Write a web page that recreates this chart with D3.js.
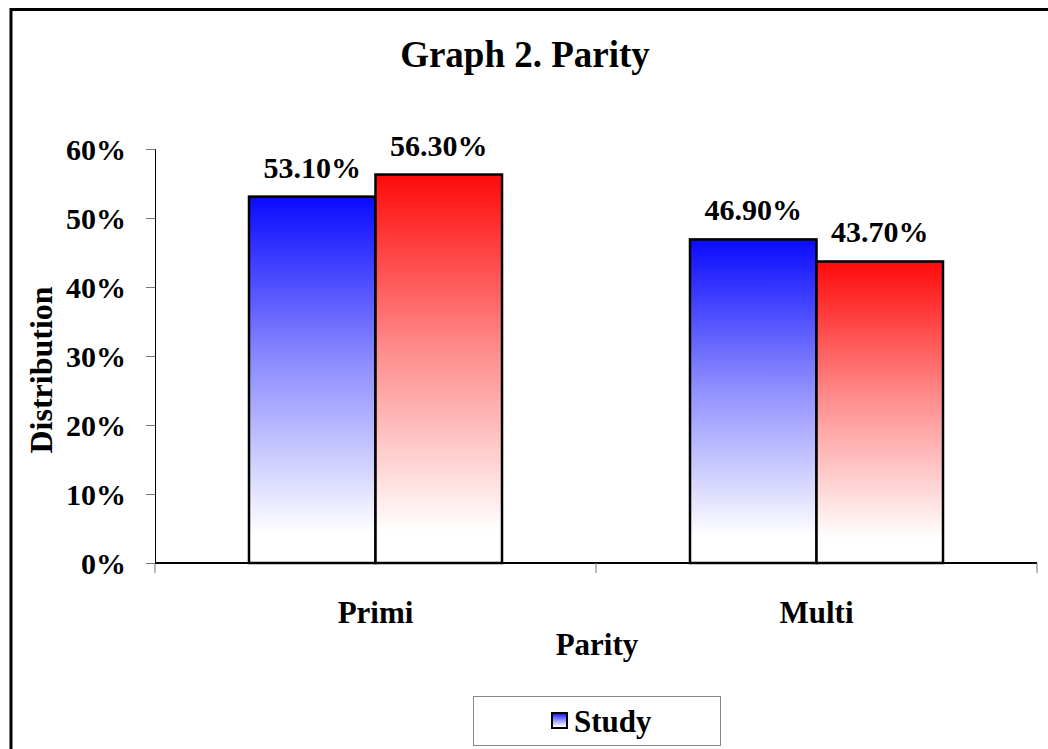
<!DOCTYPE html>
<html><head><meta charset="utf-8">
<script src="https://cdn.jsdelivr.net/npm/d3@7"></script>
<style>body{margin:0;background:#fff}svg{display:block}text{font-family:"Liberation Serif","Times New Roman",serif;font-weight:bold;fill:#000}</style>
</head><body>
<script>
const categories = ["Primi", "Multi"];
const seriesNames = ["Study", "Control"];
const studyValues = [0.531, 0.469];
const controlValues = [0.563, 0.437];
const yTicks = [0, 0.1, 0.2, 0.3, 0.4, 0.5, 0.6];
const legendNames = ["Study"];

(function () {
const W = 1048, H = 749;
const svg = d3.select("body").append("svg").attr("width", W).attr("height", H);
const defs = svg.append("defs");
function grad(id, c, mid) {
  const g = defs.append("linearGradient").attr("id", id).attr("x1", 0).attr("y1", 0).attr("x2", 0).attr("y2", 1);
  g.append("stop").attr("offset", "0%").attr("stop-color", c);
  g.append("stop").attr("offset", "45%").attr("stop-color", mid);
  g.append("stop").attr("offset", "92%").attr("stop-color", "#ffffff");
  g.append("stop").attr("offset", "100%").attr("stop-color", "#ffffff");
}
grad("gBlue", "#0a0aff", "#8c8cff");
grad("gRed", "#ff0a0a", "#ff8c8c");
const fills = {Study: "url(#gBlue)", Control: "url(#gRed)"};

// outer frame
svg.append("rect").attr("x", 11).attr("y", 9.5).attr("width", W + 20).attr("height", H + 20)
  .attr("fill", "none").attr("stroke", "#000").attr("stroke-width", 3);

const pLeft = 155, pRight = 1037, pTop = 149, pBottom = 563;
const x0 = d3.scaleBand().domain(categories).range([pLeft, pRight]).padding(0);
const x1 = d3.scaleBand().domain(seriesNames).range([0, x0.bandwidth()]).paddingInner(0).paddingOuter(0.743);
const y = d3.scaleLinear().domain([0, 0.6]).range([pBottom, pTop]);

// title
svg.append("text").attr("x", 525).attr("y", 67).attr("text-anchor", "middle").attr("font-size", 37).text("Graph 2. Parity");

// bars
const data = categories.map((c, i) => ({cat: c, vals: [{s: "Study", v: studyValues[i]}, {s: "Control", v: controlValues[i]}]}));
const g = svg.append("g");
data.forEach(d => {
  d.vals.forEach(b => {
    g.append("rect").attr("x", x0(d.cat) + x1(b.s)).attr("y", y(b.v))
      .attr("width", x1.bandwidth()).attr("height", y(0) - y(b.v))
      .attr("fill", fills[b.s]).attr("stroke", "#000").attr("stroke-width", 2.5);
    g.append("text").attr("x", x0(d.cat) + x1(b.s) + x1.bandwidth() / 2).attr("y", y(b.v) - 19)
      .attr("text-anchor", "middle").attr("font-size", 30).text((b.v * 100).toFixed(2) + "%");
  });
});

// y axis
const yAxis = d3.axisLeft(y).tickValues(yTicks).tickFormat(d3.format(".0%")).tickSize(9).tickPadding(20);
const ya = svg.append("g").attr("transform", `translate(${pLeft},0)`).call(yAxis);
ya.select(".domain").attr("stroke", "#000").attr("stroke-width", 1);
ya.selectAll(".tick line").attr("stroke", "#777");
ya.selectAll(".tick text").attr("font-size", 30).attr("font-family", "Liberation Serif").attr("font-weight", "bold").attr("fill", "#000").attr("dy", "0.35em");

// x axis
const xa = svg.append("g").attr("transform", `translate(0,${pBottom})`);
xa.append("line").attr("x1", pLeft).attr("x2", pRight).attr("y1", 0).attr("y2", 0).attr("stroke", "#000").attr("stroke-width", 2);
const tickXs = [pLeft].concat(categories.map(c => x0(c) + x0.bandwidth()));
xa.selectAll("line.tk").data(tickXs).enter().append("line").attr("class", "tk")
  .attr("x1", d => d).attr("x2", d => d).attr("y1", 0).attr("y2", 10).attr("stroke", "#777").attr("stroke-width", 1);
xa.selectAll("text.cl").data(categories).enter().append("text").attr("class", "cl")
  .attr("x", d => x0(d) + x0.bandwidth() / 2).attr("y", 60).attr("text-anchor", "middle").attr("font-size", 31).text(d => d);

// axis titles
svg.append("text").attr("x", 597).attr("y", 655).attr("text-anchor", "middle").attr("font-size", 31).text("Parity");
svg.append("text").attr("transform", "translate(52,370) rotate(-90)").attr("text-anchor", "middle").attr("font-size", 32).text("Distribution");

// legend
svg.append("rect").attr("x", 473.5).attr("y", 696.5).attr("width", 247).attr("height", 49).attr("fill", "#fff").attr("stroke", "#888").attr("stroke-width", 1);
legendNames.forEach((n, i) => {
  svg.append("rect").attr("x", 552).attr("y", 713).attr("width", 15).attr("height", 15).attr("fill", fills[n]).attr("stroke", "#000").attr("stroke-width", 2);
  svg.append("text").attr("x", 574).attr("y", 732).attr("font-size", 31).text(n);
});
})();
</script>
</body></html>
